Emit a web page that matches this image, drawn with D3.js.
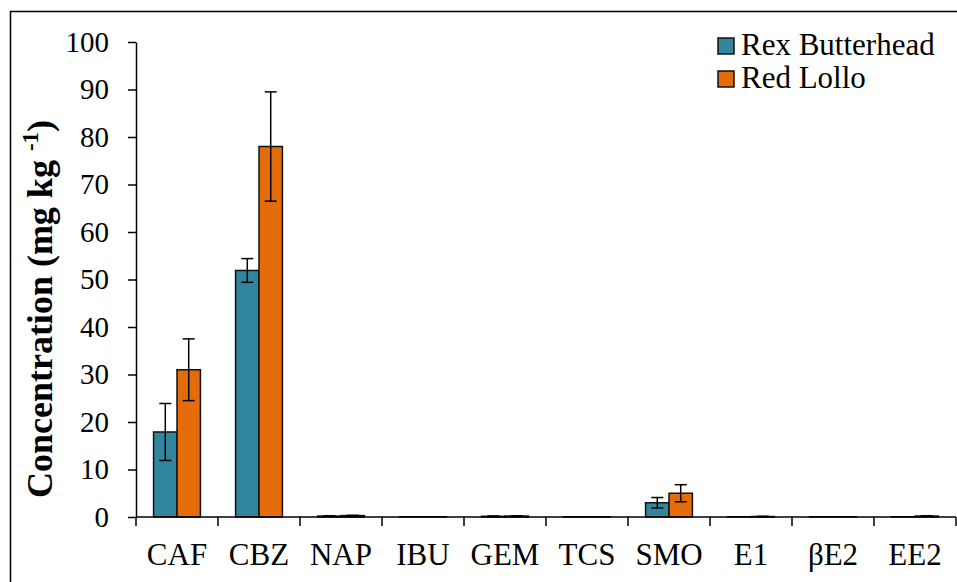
<!DOCTYPE html>
<html>
<head>
<meta charset="utf-8">
<script src="https://cdn.jsdelivr.net/npm/d3@7"></script>
<style>
  body { margin: 0; background: #fff; }
  svg { display: block; font-family: "Liberation Serif", "Times New Roman", serif; }
</style>
</head>
<body>
<svg id="chart" width="957" height="582"></svg>
<script>
// data
var categories = ["CAF", "CBZ", "NAP", "IBU", "GEM", "TCS", "SMO", "E1", "\u03b2E2", "EE2"];
var seriesNames = ["Rex Butterhead", "Red Lollo"];
var rexValues  = [17.9, 51.9, 0.2, 0.05, 0.15, 0.03, 3.0, 0.05, 0.05, 0.05];
var rexErrors  = [6.0, 2.5, 0.05, 0, 0.05, 0, 1.1, 0, 0, 0];
var lolloValues = [31.0, 78.0, 0.3, 0.05, 0.2, 0.03, 5.0, 0.1, 0.05, 0.2];
var lolloErrors = [6.5, 11.5, 0.05, 0, 0.05, 0, 1.8, 0.05, 0, 0.05];
var yTicks = [0, 10, 20, 30, 40, 50, 60, 70, 80, 90, 100];
var colors = ["#31859c", "#e46c0a"];

var svg = d3.select("#chart");
var plotLeft = 136, plotRight = 956, plotTop = 42, plotBottom = 517;

// outer frame
svg.append("rect")
  .attr("x", 10.5).attr("y", 11.5)
  .attr("width", 960).attr("height", 600)
  .attr("fill", "none").attr("stroke", "#000").attr("stroke-width", 1.5);

var x = d3.scaleBand().domain(categories).range([plotLeft, plotRight]);
var x1 = d3.scaleBand().domain(seriesNames).range([0, x.bandwidth()]).paddingInner(0).paddingOuter(0.75);
var y = d3.scaleLinear().domain([0, 100]).range([plotBottom, plotTop]);

var series = [
  { name: seriesNames[0], values: rexValues, errors: rexErrors },
  { name: seriesNames[1], values: lolloValues, errors: lolloErrors }
];

series.forEach(function (s, si) {
  var g = svg.append("g");
  g.selectAll("rect")
    .data(categories)
    .enter().append("rect")
    .attr("x", function (c) { return x(c) + x1(s.name); })
    .attr("width", x1.bandwidth())
    .attr("y", function (c, i) { return y(s.values[i]); })
    .attr("height", function (c, i) { return plotBottom - y(s.values[i]); })
    .attr("fill", colors[si])
    .attr("stroke", "#111")
    .attr("stroke-width", 1.5);

  // error bars
  categories.forEach(function (c, i) {
    if (!s.errors[i]) return;
    var cx = x(c) + x1(s.name) + x1.bandwidth() / 2;
    var hi = y(s.values[i] + s.errors[i]), lo = y(s.values[i] - s.errors[i]);
    g.append("line").attr("x1", cx).attr("x2", cx).attr("y1", hi).attr("y2", lo)
      .attr("stroke", "#000").attr("stroke-width", 1.5);
    [hi, lo].forEach(function (yy) {
      g.append("line").attr("x1", cx - 6).attr("x2", cx + 6).attr("y1", yy).attr("y2", yy)
        .attr("stroke", "#000").attr("stroke-width", 1.5);
    });
  });
});

// y axis
var yAxis = svg.append("g")
  .attr("transform", "translate(" + plotLeft + ",0)")
  .call(d3.axisLeft(y).tickValues(yTicks).tickSize(8).tickPadding(19).tickSizeOuter(0));
yAxis.select(".domain").attr("stroke", "#000").attr("stroke-width", 1.5);
yAxis.selectAll(".tick line").attr("stroke", "#000").attr("stroke-width", 1.5);
yAxis.selectAll("text").attr("font-size", 29).attr("fill", "#000").attr("font-family", "Liberation Serif");

// x axis, ticks at category boundaries
var xAxisG = svg.append("g").attr("transform", "translate(0," + plotBottom + ")");
xAxisG.append("line").attr("x1", plotLeft).attr("x2", plotRight).attr("y1", 0).attr("y2", 0)
  .attr("stroke", "#000").attr("stroke-width", 1.5);
var bounds = categories.map(function (c) { return x(c); }).concat([plotRight]);
xAxisG.selectAll("line.tk").data(bounds).enter().append("line")
  .attr("class", "tk")
  .attr("x1", function (d) { return d; }).attr("x2", function (d) { return d; })
  .attr("y1", 0).attr("y2", 9)
  .attr("stroke", "#000").attr("stroke-width", 1.5);
xAxisG.selectAll("text").data(categories).enter().append("text")
  .attr("x", function (c) { return x(c) + x.bandwidth() / 2; })
  .attr("y", 48)
  .attr("text-anchor", "middle")
  .attr("font-size", 31)
  .text(function (c) { return c; });

// y title
var title = svg.append("text")
  .attr("transform", "translate(52,309) rotate(-90)")
  .attr("text-anchor", "middle")
  .attr("font-size", 36)
  .attr("font-weight", "bold");
title.append("tspan").text("Concentration (mg kg ");
title.append("tspan").attr("font-size", 23).attr("dy", -14).text("-1");
title.append("tspan").attr("dy", 14).text(")");

// legend
var legend = svg.append("g").attr("transform", "translate(718,38)");
seriesNames.forEach(function (n, i) {
  var row = legend.append("g").attr("transform", "translate(0," + (i * 33) + ")");
  row.append("rect").attr("width", 16).attr("height", 16)
    .attr("fill", colors[i]).attr("stroke", "#111").attr("stroke-width", 1.5);
  row.append("text").attr("x", 23).attr("y", 17).attr("font-size", 31).text(n);
});
</script>
</body>
</html>
